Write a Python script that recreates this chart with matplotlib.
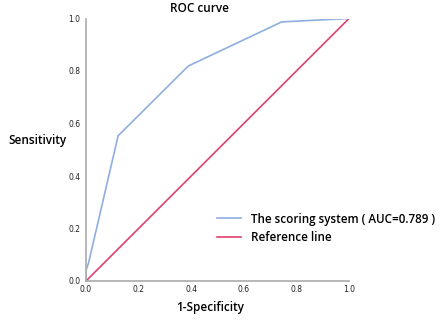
import matplotlib
matplotlib.use("Agg")
import matplotlib.pyplot as plt

fpr = [0.0, 0.0, 0.01, 0.122, 0.389, 0.744, 1.0]
tpr = [0.0, 0.04, 0.07, 0.553, 0.819, 0.987, 1.0]
ref_x = [0.0, 1.0]
ref_y = [0.0, 1.0]
ticks = [0.0, 0.2, 0.4, 0.6, 0.8, 1.0]
tick_labels = ["0.0", "0.2", "0.4", "0.6", "0.8", "1.0"]

W, H = 447, 324
fig = plt.figure(figsize=(W / 100, H / 100), dpi=100)
ax = fig.add_axes([86 / W, 1 - 281 / H, 263 / W, 262.5 / H])

ax.plot(fpr, tpr, color="#8eaee0", lw=1.2, label="The scoring system ( AUC=0.789 )")
ax.plot(ref_x, ref_y, color="#e0416c", lw=1.2, label="Reference line")

ax.set_xlim(0, 1)
ax.set_ylim(0, 1)
ax.set_xticks(ticks)
ax.set_yticks(ticks)
ax.set_xticklabels(tick_labels)
ax.set_yticklabels(tick_labels)
ax.tick_params(length=0, labelsize=5.5, colors="#222222")
ax.tick_params(axis="x", pad=3)
ax.tick_params(axis="y", pad=4)
for s in ["top", "right"]:
    ax.spines[s].set_visible(False)
for s in ["left", "bottom"]:
    ax.spines[s].set_color("#aaaaaa")
    ax.spines[s].set_linewidth(1.2)

font = "Open Sans"
fig.text(200 / W, 1 - 9 / H, "ROC curve", ha="center", va="center", fontsize=8.5,
         family=font, fontweight="semibold")
fig.text(37 / W, 1 - 141 / H, "Sensitivity", ha="center", va="center", fontsize=8.5,
         family=font, fontweight="semibold")
fig.text(210 / W, 1 - 308 / H, "1-Specificity", ha="center", va="center", fontsize=8.5,
         family=font, fontweight="semibold")

leg = ax.legend(loc="upper left", bbox_to_anchor=(206 / W, 1 - 202 / H),
                bbox_transform=fig.transFigure, frameon=False,
                prop={"family": font, "size": 8.4, "weight": "semibold"},
                handlelength=2.1, handletextpad=0.85, labelspacing=0.45)

fig.savefig("out.png", dpi=100)
